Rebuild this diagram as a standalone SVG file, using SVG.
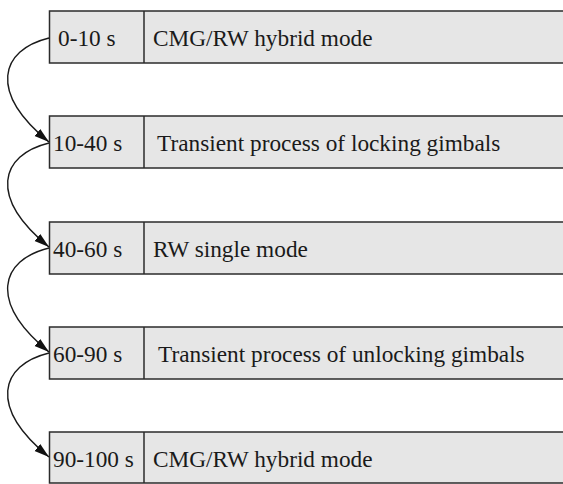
<svg xmlns="http://www.w3.org/2000/svg" width="563" height="484" viewBox="0 0 563 484">
  <style>
    .box { fill: #e6e6e6; stroke: #2b2b2b; stroke-width: 1.5; }
    .div { stroke: #2b2b2b; stroke-width: 1.5; }
    .lbl { font-family: "Liberation Serif", "Times New Roman", serif; font-size: 23.3px; fill: #1a1a1a; }
    .link { fill: none; stroke: #1a1a1a; stroke-width: 1.4; marker-end: url(#arrow); }
  </style>
  <defs>
    <marker id="arrow" markerUnits="userSpaceOnUse" markerWidth="16" markerHeight="10" refX="15" refY="5" orient="auto">
      <path d="M0,0.5 L15,5 L0,9.5 Z" fill="#111"/>
    </marker>
  </defs>
  <rect width="563" height="484" fill="#ffffff"/>

  <g id="step1">
    <rect class="box" x="49.5" y="11" width="530" height="52"/>
    <line class="div" x1="144" y1="11" x2="144" y2="63"/>
    <text class="lbl" x="58" y="45.5">0-10 s</text>
    <text class="lbl" x="153" y="45.5">CMG/RW hybrid mode</text>
  </g>

  <g id="step2">
    <rect class="box" x="49.5" y="116" width="530" height="52"/>
    <line class="div" x1="144" y1="116" x2="144" y2="168"/>
    <text class="lbl" x="53" y="150.5">10-40 s</text>
    <text class="lbl" x="157" y="150.5">Transient process of locking gimbals</text>
  </g>

  <g id="step3">
    <rect class="box" x="49.5" y="222" width="530" height="52"/>
    <line class="div" x1="144" y1="222" x2="144" y2="274"/>
    <text class="lbl" x="53" y="256.5">40-60 s</text>
    <text class="lbl" x="153" y="256.5">RW single mode</text>
  </g>

  <g id="step4">
    <rect class="box" x="49.5" y="327" width="530" height="52"/>
    <line class="div" x1="144" y1="327" x2="144" y2="379"/>
    <text class="lbl" x="53" y="361.5">60-90 s</text>
    <text class="lbl" x="158" y="361.5">Transient process of unlocking gimbals</text>
  </g>

  <g id="step5">
    <rect class="box" x="49.5" y="432" width="530" height="51"/>
    <line class="div" x1="144" y1="432" x2="144" y2="483"/>
    <text class="lbl" x="53" y="466.5">90-100 s</text>
    <text class="lbl" x="153" y="466.5">CMG/RW hybrid mode</text>
  </g>

  <g id="connectors">
    <path class="link" d="M49,38 C0,50 -12,92 49,142"/>
    <path class="link" d="M49,143 C0,155 -12,197 49,247"/>
    <path class="link" d="M49,248 C0,260 -12,302 49,352"/>
    <path class="link" d="M49,353 C0,365 -12,407 49,457"/>
  </g>
</svg>
